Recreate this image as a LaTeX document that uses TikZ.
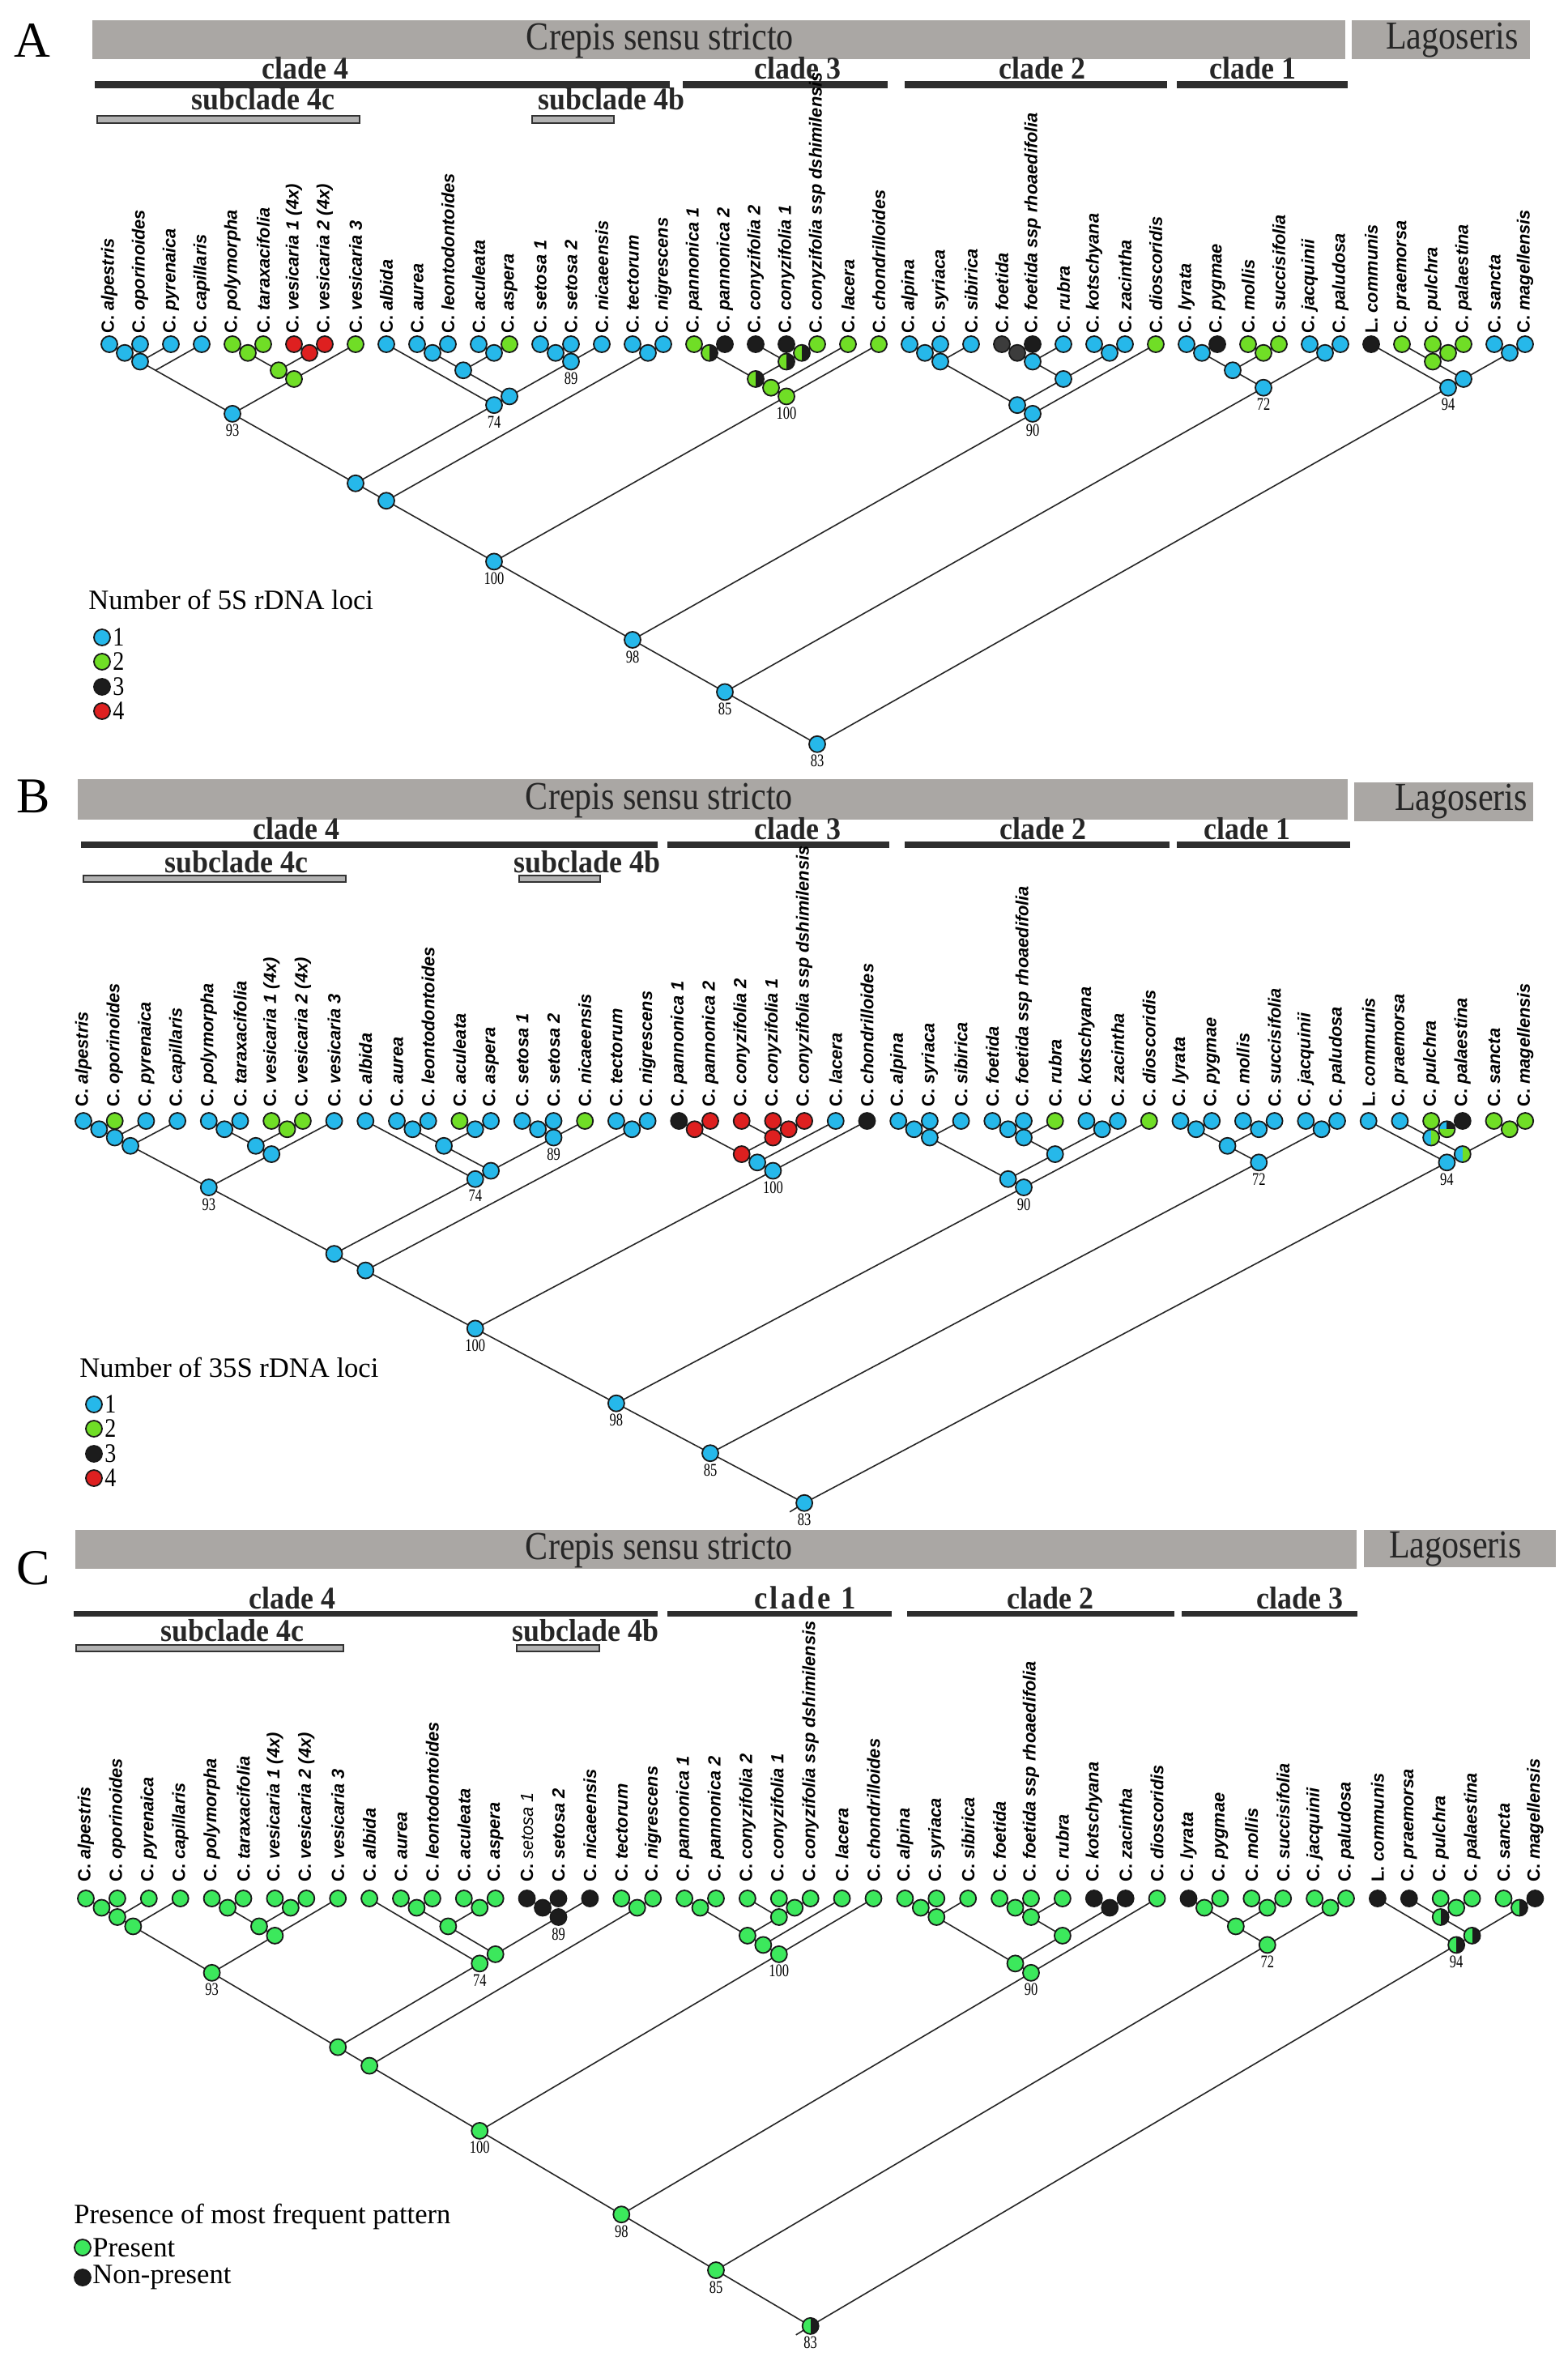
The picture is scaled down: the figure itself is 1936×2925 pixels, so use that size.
\documentclass[tikz,border=0pt]{standalone}
\usepackage{fontspec}
\setmainfont{Liberation Serif}
\newfontfamily\labfont{Liberation Sans}
\newfontfamily\supfont[FakeStretch=0.75]{Liberation Serif}
\newfontfamily\condfont[FakeStretch=0.86]{Liberation Serif}
\newfontfamily\clfont[FakeStretch=0.92]{Liberation Serif}
\newfontfamily\numfont[FakeStretch=0.85]{Liberation Serif}
\newfontfamily\spacedfont[LetterSpace=8,FakeStretch=0.92]{Liberation Serif}
\definecolor{cB}{RGB}{38,184,234}
\definecolor{cG}{RGB}{112,222,38}
\definecolor{cP}{RGB}{60,232,92}
\definecolor{cK}{RGB}{28,28,28}
\definecolor{cD}{RGB}{60,60,60}
\definecolor{cR}{RGB}{222,32,32}
\definecolor{barg}{RGB}{170,167,164}
\tikzset{
 tl/.style={line width=0.8pt, draw=black!85},
 dot/.style={circle, draw=black!90, line width=0.9pt, minimum size=10pt, inner sep=0pt},
 lab/.style={rotate=90, anchor=west, inner sep=0pt, font=\labfont\fontsize{10.9pt}{10.9pt}\selectfont},
 sup/.style={anchor=north, inner sep=0pt, font=\supfont\fontsize{11pt}{11pt}\selectfont},
 grbar/.style={fill=barg, draw=none},
 clbar/.style={fill=black!82, draw=none},
 subbar/.style={fill=black!30, draw=black!80, line width=0.9pt},
 bartxt/.style={inner sep=0pt, font=\condfont\fontsize{24.5pt}{24.5pt}\selectfont, text=black!85},
 cltxt/.style={anchor=base, inner sep=0pt, font=\clfont\bfseries\fontsize{19.5pt}{19.5pt}\selectfont, text=black!85},
 paneltxt/.style={inner sep=0pt, font=\fontsize{31pt}{31pt}\selectfont},
 legtitle/.style={anchor=base west, inner sep=0pt, font=\fontsize{17.3pt}{17.3pt}\selectfont},
 legtxt/.style={anchor=west, inner sep=0pt, font=\numfont\fontsize{16.5pt}{16.5pt}\selectfont},
}
% coordinates of one tree: #1 prefix, #2 x0, #3 dx, #4 tip y, #5 slope
\newcommand\mkcoords[5]{%
 \foreach \ii in {0,...,46}{\pgfmathsetmacro\xx{#2+\ii*#3}\coordinate (#1t\ii) at (\xx,#4);}
 \foreach \nm/\lo/\hi in {n01/0/1,n02/0/2,n03/0/3,n45/4/5,n67/6/7,n47/4/7,n48/4/8,n08/0/8,n1011/10/11,n1213/12/13,n1013/10/13,n1415/14/15,n1416/14/16,n1016/10/16,n916/9/16,n016/0/16,n1718/17/18,n018/0/18,n1920/19/20,n2223/22/23,n2123/21/23,n1923/19/23,n1924/19/24,n1925/19/25,n025/0/25,n2627/26/27,n2628/26/28,n2930/29/30,n2931/29/31,n3233/32/33,n2933/29/33,n2633/26/33,n2634/26/34,n034/0/34,n3536/35/36,n3738/37/38,n3538/35/38,n3940/39/40,n3540/35/40,n040/0/40,n4344/43/44,n4244/42/44,n4546/45/46,n4246/42/46,n4146/41/46,n046/0/46}
 {\pgfmathsetmacro\xx{#2+(\lo+\hi)/2*#3}\pgfmathsetmacro\yy{#4+(\hi-\lo)/2*#3*#5}\coordinate (#1\nm) at (\xx,\yy);}
}
\newcommand\mkedges[1]{%
 \foreach \pa/\ca/\cb in {n01/t0/t1,n02/n01/t2,n03/n02/t3,n45/t4/t5,n67/t6/t7,n47/n45/n67,n48/n47/t8,n08/n03/n48,n1011/t10/t11,n1213/t12/t13,n1013/n1011/n1213,n1415/t14/t15,n1416/n1415/t16,n1016/n1013/n1416,n916/t9/n1016,n016/n08/n916,n1718/t17/t18,n018/n016/n1718,n1920/t19/t20,n2223/t22/t23,n2123/t21/n2223,n1923/n1920/n2123,n1924/n1923/t24,n1925/n1924/t25,n025/n018/n1925,n2627/t26/t27,n2628/n2627/t28,n2930/t29/t30,n2931/n2930/t31,n3233/t32/t33,n2933/n2931/n3233,n2633/n2628/n2933,n2634/n2633/t34,n034/n025/n2634,n3536/t35/t36,n3738/t37/t38,n3538/n3536/n3738,n3940/t39/t40,n3540/n3538/n3940,n040/n034/n3540,n4344/t43/t44,n4244/t42/n4344,n4546/t45/t46,n4246/n4244/n4546,n4146/t41/n4246,n046/n040/n4146}
 {\draw[tl] (#1\ca) -- (#1\pa) -- (#1\cb);}
}
% #1 prefix, #2 shift, #3 index of a label set in lighter type (-1 for none)
\newcommand\mklabels[3]{%
 \foreach \ii/\gen/\spc in {0/C/alpestris,1/C/oporinoides,2/C/pyrenaica,3/C/capillaris,4/C/polymorpha,5/C/taraxacifolia,6/C/vesicaria 1 (4x),7/C/vesicaria 2 (4x),8/C/vesicaria 3,9/C/albida,10/C/aurea,11/C/leontodontoides,12/C/aculeata,13/C/aspera,14/C/setosa 1,15/C/setosa 2,16/C/nicaeensis,17/C/tectorum,18/C/nigrescens,19/C/pannonica 1,20/C/pannonica 2,21/C/conyzifolia 2,22/C/conyzifolia 1,23/C/conyzifolia ssp dshimilensis,24/C/lacera,25/C/chondrilloides,26/C/alpina,27/C/syriaca,28/C/sibirica,29/C/foetida,30/C/foetida ssp rhoaedifolia,31/C/rubra,32/C/kotschyana,33/C/zacintha,34/C/dioscoridis,35/C/lyrata,36/C/pygmae,37/C/mollis,38/C/succisifolia,39/C/jacquinii,40/C/paludosa,41/L/communis,42/C/praemorsa,43/C/pulchra,44/C/palaestina,45/C/sancta,46/C/magellensis}
 {\ifnum\ii=#3\relax
   \node[lab] (#1L\ii) at ([yshift=#2]#1t\ii) {\textbf{\gen.}\ \textit{\spc}};
  \else
   \node[lab] (#1L\ii) at ([yshift=#2]#1t\ii) {\textbf{\gen.}\ \textbf{\textit{\spc}}};
  \fi}
}
\newcommand\mksupport[1]{%
 \foreach \nm/\val in {n08/93,n916/74,n1416/89,n1925/100,n025/100,n2634/90,n034/98,n3540/72,n040/85,n4146/94,n046/83}
 {\node[sup] (#1S\nm) at ([yshift=-6.5pt]#1\nm) {\val};}
}
\newcommand\halfdot[4]{%
 \begin{scope}
  \clip (#1) circle[radius=10];
  \fill[#2] ([shift={(-12,-12)}]#1) rectangle ([shift={(0,12)}]#1);
  \fill[#3] ([shift={(0,-12)}]#1) rectangle ([shift={(12,12)}]#1);
 \end{scope}
 \node[dot] (#4) at (#1) {};
}
\newcommand\piedot[2]{%
 \begin{scope}
  \clip (#1) circle[radius=10];
  \fill[cB] ([shift={(-12,-12)}]#1) rectangle (#1);
  \fill[cK] ([shift={(0,-12)}]#1) rectangle ([shift={(12,0)}]#1);
  \fill[cG] ([shift={(-12,0)}]#1) rectangle ([shift={(12,12)}]#1);
 \end{scope}
 \node[dot] (#2) at (#1) {};
}
\begin{document}
\begin{tikzpicture}[x=0.5pt,y=-0.5pt]
\fill[white] (0,0) rectangle (1936,2925);
\path[use as bounding box] (0,0) rectangle (1936,2925);

%% ================= PANEL A =================
\node[paneltxt] (Aletter) at (40,50) {A};
\path[grbar] (114,25) rectangle (1661,73);
\node[bartxt] (Acrepis) at (815,50) {Crepis sensu stricto};
\path[grbar] (1669,25) rectangle (1889,73);
\node[bartxt] (Alago) at (1793,50) {Lagoseris};
\path[clbar] (117,100) rectangle (827,109);
\path[clbar] (843,100) rectangle (1096,109);
\path[clbar] (1117,100) rectangle (1441,109);
\path[clbar] (1453,100) rectangle (1664,109);
\node[cltxt] (Ac4) at (377,97) {clade 4};
\node[cltxt] (Ac3) at (985,97) {clade 3};
\node[cltxt] (Ac2) at (1287,97) {clade 2};
\node[cltxt] (Ac1) at (1547,97) {clade 1};
\path[subbar] (120,143) rectangle (444,152);
\path[subbar] (657,143) rectangle (758,152);
\node[cltxt] (As4c) at (325,135) {subclade 4c};
\node[cltxt] (As4b) at (755,135) {subclade 4b};

\mkcoords{A}{135}{38}{425}{0.565}
\mkedges{A}
\foreach \cn/\col in {t0/cB,t1/cB,t2/cB,t3/cB,t4/cG,t5/cG,t6/cR,t7/cR,t8/cG,t9/cB,t10/cB,t11/cB,t12/cB,t13/cG,t14/cB,t15/cB,t16/cB,t17/cB,t18/cB,t19/cG,t20/cK,t21/cK,t22/cK,t23/cG,t24/cG,t25/cG,t26/cB,t27/cB,t28/cB,t29/cD,t30/cK,t31/cB,t32/cB,t33/cB,t34/cG,t35/cB,t36/cK,t37/cG,t38/cG,t39/cB,t40/cB,t41/cK,t42/cG,t43/cG,t44/cG,t45/cB,t46/cB,n01/cB,n02/cB,n45/cG,n67/cR,n47/cG,n48/cG,n08/cB,n1011/cB,n1213/cB,n1013/cB,n1415/cB,n1416/cB,n1016/cB,n916/cB,n016/cB,n1718/cB,n018/cB,n1924/cG,n1925/cG,n025/cB,n2627/cB,n2628/cB,n2930/cD,n2931/cB,n3233/cB,n2933/cB,n2633/cB,n2634/cB,n034/cB,n3536/cB,n3738/cG,n3538/cB,n3940/cB,n3540/cB,n040/cB,n4344/cG,n4244/cG,n4546/cB,n4246/cB,n4146/cB,n046/cB}
 {\node[dot,fill=\col] (AD\cn) at (A\cn) {};}
\halfdot{An1920}{cG}{cK}{ADn1920}
\halfdot{An2223}{cG}{cK}{ADn2223}
\halfdot{An2123}{cG}{cK}{ADn2123}
\halfdot{An1923}{cG}{cK}{ADn1923}
\mklabels{A}{6.5pt}{-1}
\mksupport{A}
\node[legtitle] (ALt) at (109,752) {Number of 5S rDNA loci};
\foreach \k/\yy/\col in {1/787/cB,2/817/cG,3/848/cK,4/878/cR}
 {\node[dot,fill=\col] (ALd\k) at (126,\yy) {}; \node[legtxt] (ALn\k) at (139,\yy) {\k};}

%% ================= PANEL B =================
\node[paneltxt] (Bletter) at (41,983) {B};
\path[grbar] (96,962) rectangle (1664,1012);
\node[bartxt] (Bcrepis) at (814,988) {Crepis sensu stricto};
\path[grbar] (1672,966) rectangle (1893,1014);
\node[bartxt] (Blago) at (1804,990) {Lagoseris};
\path[clbar] (100,1039) rectangle (812,1047);
\path[clbar] (824,1039) rectangle (1098,1047);
\path[clbar] (1117,1039) rectangle (1444,1047);
\path[clbar] (1453,1039) rectangle (1667,1047);
\node[cltxt] (Bc4) at (366,1036) {clade 4};
\node[cltxt] (Bc3) at (985,1036) {clade 3};
\node[cltxt] (Bc2) at (1288,1036) {clade 2};
\node[cltxt] (Bc1) at (1540,1036) {clade 1};
\path[subbar] (103,1081) rectangle (427,1089);
\path[subbar] (641,1081) rectangle (741,1089);
\node[cltxt] (Bs4c) at (292,1077) {subclade 4c};
\node[cltxt] (Bs4b) at (725,1077) {subclade 4b};

\mkcoords{B}{103}{38.7}{1384}{0.53}
\mkedges{B}
\coordinate (Bstub) at ([shift={(-18,11)}]Bn046);
\draw[tl] (Bn046) -- (Bstub);
\foreach \cn/\col in {t0/cB,t1/cG,t2/cB,t3/cB,t4/cB,t5/cB,t6/cG,t7/cG,t8/cB,t9/cB,t10/cB,t11/cB,t12/cG,t13/cB,t14/cB,t15/cB,t16/cG,t17/cB,t18/cB,t19/cK,t20/cR,t21/cR,t22/cR,t23/cR,t24/cB,t25/cK,t26/cB,t27/cB,t28/cB,t29/cB,t30/cB,t31/cG,t32/cB,t33/cB,t34/cG,t35/cB,t36/cB,t37/cB,t38/cB,t39/cB,t40/cB,t41/cB,t42/cB,t43/cG,t44/cK,t45/cG,t46/cG,n01/cB,n02/cB,n03/cB,n45/cB,n67/cG,n47/cB,n48/cB,n08/cB,n1011/cB,n1213/cB,n1013/cB,n1415/cB,n1416/cB,n1016/cB,n916/cB,n016/cB,n1718/cB,n018/cB,n1920/cR,n2223/cR,n2123/cR,n1923/cR,n1924/cB,n1925/cB,n025/cB,n2627/cB,n2628/cB,n2930/cB,n2931/cB,n3233/cB,n2933/cB,n2633/cB,n2634/cB,n034/cB,n3536/cB,n3738/cB,n3538/cB,n3940/cB,n3540/cB,n040/cB,n4546/cG,n4146/cB,n046/cB}
 {\node[dot,fill=\col] (BD\cn) at (B\cn) {};}
\piedot{Bn4344}{BDn4344}
\halfdot{Bn4244}{cB}{cG}{BDn4244}
\halfdot{Bn4246}{cB}{cG}{BDn4246}
\mklabels{B}{8.5pt}{-1}
\mksupport{B}
\node[legtitle] (BLt) at (98,1700) {Number of 35S rDNA loci};
\foreach \k/\yy/\col in {1/1734/cB,2/1764/cG,3/1795/cK,4/1825/cR}
 {\node[dot,fill=\col] (BLd\k) at (116,\yy) {}; \node[legtxt] (BLn\k) at (129,\yy) {\k};}

%% ================= PANEL C =================
\node[paneltxt] (Cletter) at (41,1936) {C};
\path[grbar] (93,1889) rectangle (1675,1937);
\node[bartxt] (Ccrepis) at (814,1914) {Crepis sensu stricto};
\path[grbar] (1684,1889) rectangle (1921,1935);
\node[bartxt] (Clago) at (1797,1913) {Lagoseris};
\path[clbar] (91,1989) rectangle (812,1996);
\path[clbar] (824,1989) rectangle (1101,1996);
\path[clbar] (1120,1989) rectangle (1450,1996);
\path[clbar] (1459,1989) rectangle (1676,1996);
\node[cltxt] (Cc4) at (361,1986) {clade 4};
\node[cltxt, font=\spacedfont\bfseries\fontsize{20pt}{20pt}\selectfont] (Cc1) at (994,1986) {clade 1};
\node[cltxt] (Cc2) at (1297,1986) {clade 2};
\node[cltxt] (Cc3) at (1605,1986) {clade 3};
\path[subbar] (94,2031) rectangle (424,2039);
\path[subbar] (638,2031) rectangle (740,2039);
\node[cltxt] (Cs4c) at (287,2026) {subclade 4c};
\node[cltxt] (Cs4b) at (723,2026) {subclade 4b};

\mkcoords{C}{106}{38.9}{2344}{0.59}
\mkedges{C}
\coordinate (Cstub) at ([shift={(-18,11)}]Cn046);
\draw[tl] (Cn046) -- (Cstub);
\foreach \cn/\col in {t0/cP,t1/cP,t2/cP,t3/cP,t4/cP,t5/cP,t6/cP,t7/cP,t8/cP,t9/cP,t10/cP,t11/cP,t12/cP,t13/cP,t14/cK,t15/cK,t16/cK,t17/cP,t18/cP,t19/cP,t20/cP,t21/cP,t22/cP,t23/cP,t24/cP,t25/cP,t26/cP,t27/cP,t28/cP,t29/cP,t30/cP,t31/cP,t32/cK,t33/cK,t34/cP,t35/cK,t36/cP,t37/cP,t38/cP,t39/cP,t40/cP,t41/cK,t42/cK,t43/cP,t44/cP,t45/cP,t46/cK,n01/cP,n02/cP,n03/cP,n45/cP,n67/cP,n47/cP,n48/cP,n08/cP,n1011/cP,n1213/cP,n1013/cP,n1415/cK,n1416/cK,n1016/cP,n916/cP,n016/cP,n1718/cP,n018/cP,n1920/cP,n2223/cP,n2123/cP,n1923/cP,n1924/cP,n1925/cP,n025/cP,n2627/cP,n2628/cP,n2930/cP,n2931/cP,n3233/cK,n2933/cP,n2633/cP,n2634/cP,n034/cP,n3536/cP,n3738/cP,n3538/cP,n3940/cP,n3540/cP,n040/cP,n4344/cP}
 {\node[dot,fill=\col] (CD\cn) at (C\cn) {};}
\halfdot{Cn4244}{cP}{cK}{CDn4244}
\halfdot{Cn4546}{cP}{cK}{CDn4546}
\halfdot{Cn4246}{cP}{cK}{CDn4246}
\halfdot{Cn4146}{cP}{cK}{CDn4146}
\halfdot{Cn046}{cP}{cK}{CDn046}
\mklabels{C}{10pt}{14}
\mksupport{C}
\node[legtitle] (CLt) at (91,2745) {Presence of most frequent pattern};
\node[dot,fill=cP] (CLd1) at (102,2775) {};
\node[legtxt, font=\fontsize{17.3pt}{17.3pt}\selectfont] (CLn1) at (114,2775) {Present};
\node[dot,fill=cK] (CLd2) at (102,2812) {};
\node[legtxt, font=\fontsize{17.3pt}{17.3pt}\selectfont] (CLn2) at (114,2812) {Non-present};
\end{tikzpicture}
\end{document}
